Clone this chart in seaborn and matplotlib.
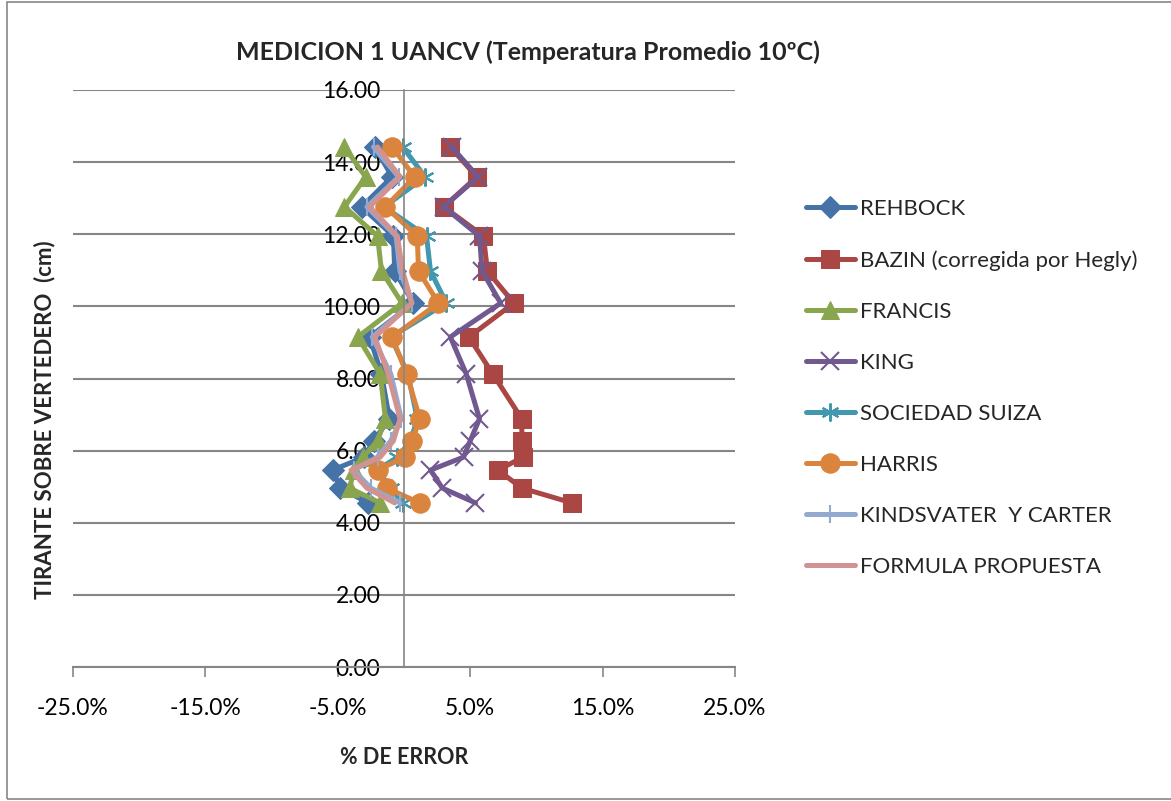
import numpy as np
import pandas as pd
import matplotlib
matplotlib.use("Agg")
import matplotlib.pyplot as plt
from matplotlib.patches import Rectangle
import seaborn as sns

# Water depth over the weir (cm) for each measurement
tirante = [14.42, 13.59, 12.76, 11.95, 10.98, 10.09, 9.15, 8.13, 6.88, 6.27, 5.82, 5.46, 4.96, 4.55]

# Percentage error of each discharge formula
rehbock    = [-2.2, -0.9, -3.2, -0.8, -0.7, 0.7, -2.6, -1.7, -1.1, -2.3, -3.0, -5.4, -4.8, -2.7]
bazin      = [3.5, 5.5, 3.0, 6.0, 6.3, 8.3, 4.9, 6.7, 8.9, 8.9, 9.0, 7.1, 8.9, 12.7]
francis    = [-4.5, -2.9, -4.5, -2.0, -1.7, -0.15, -3.5, -1.8, -1.4, -2.0, -3.1, -3.8, -4.1, -1.8]
king       = [3.6, 5.6, 3.0, 5.7, 5.9, 7.3, 3.5, 4.7, 5.7, 5.0, 4.5, 2.0, 2.9, 5.4]
suiza      = [-0.1, 1.6, -1.5, 1.7, 2.0, 3.2, -1.0, 0.3, 1.0, 0.5, -0.5, -2.0, -1.0, -0.1]
harris     = [-0.9, 0.8, -1.4, 1.0, 1.1, 2.6, -0.9, 0.2, 1.2, 0.6, 0.1, -2.0, -1.3, 1.2]
kindsvater = [-2.3, -0.4, -2.8, -0.6, -0.3, 0.6, -2.4, -1.0, -0.2, -1.0, -2.0, -3.8, -2.5, -0.3]
propuesta  = [-2.0, -0.3, -2.6, -0.5, -0.1, 0.6, -2.2, -1.2, -0.3, -0.8, -1.8, -4.0, -2.8, -0.7]

x_ticks = [-25, -15, -5, 5, 15, 25]
y_ticks = [0, 2, 4, 6, 8, 10, 12, 14, 16]

sns.set_theme(style="white")
plt.rcParams['font.family'] = ['Lato', 'DejaVu Sans']

fig = plt.figure(figsize=(11.71, 8.01), dpi=100)
ax = fig.add_axes([73 / 1171, 1 - 667 / 801, (735 - 73) / 1171, (667 - 90) / 801])

series = [
    ("REHBOCK", rehbock, "#4572A7", dict(marker="D", markersize=11)),
    ("BAZIN (corregida por Hegly)", bazin, "#AA4643", dict(marker="s", markersize=13)),
    ("FRANCIS", francis, "#89A54E", dict(marker="^", markersize=13)),
    ("KING", king, "#71588F", dict(marker="x", markersize=13, markeredgewidth=1.5)),
    ("SOCIEDAD SUIZA", suiza, "#4198AF", dict(marker=(6, 2, 0), markersize=13, markeredgewidth=1.5)),
    ("HARRIS", harris, "#DB843D", dict(marker="o", markersize=14)),
    ("KINDSVATER  Y CARTER", kindsvater, "#93A9CF", dict(marker="|", markersize=13, markeredgewidth=1.5)),
    ("FORMULA PROPUESTA", propuesta, "#D19392", dict()),
]

for name, vals, color, mk in series:
    df = pd.DataFrame({"error": vals, "tirante": tirante})
    sns.lineplot(data=df, x="error", y="tirante", sort=False, estimator=None,
                 color=color, linewidth=3.6, label=name, ax=ax,
                 markeredgecolor=color, markerfacecolor=color, **mk)

ax.set_xlim(-25, 25)
ax.set_ylim(0, 16)
ax.set_xticks(x_ticks)
ax.set_xticklabels([f"{v:.1f}%" for v in x_ticks])
ax.set_yticks(y_ticks)
ax.set_yticklabels([f"{v:.2f}" for v in y_ticks])

grid_color = "#868686"
ax.yaxis.grid(True, color=grid_color, linewidth=1.5)
ax.xaxis.grid(False)
ax.set_axisbelow(True)
for s in ["top", "right"]:
    ax.spines[s].set_visible(False)
ax.spines["left"].set_position(("data", 0))
ax.spines["left"].set_color(grid_color)
ax.spines["left"].set_linewidth(1.2)
ax.spines["bottom"].set_color(grid_color)
ax.spines["bottom"].set_linewidth(1.5)

ax.tick_params(axis="x", direction="out", length=7, width=1.2, color=grid_color,
               pad=15, labelsize=16.5, labelcolor="black", bottom=True)
ax.tick_params(axis="y", length=0, pad=17, labelsize=16.5, labelcolor="black")

ax.set_xlabel("")
ax.set_ylabel("")
fig.text(404 / 1171, 1 - 758 / 801, "% DE ERROR", ha="center", va="center",
         fontsize=15.5, fontweight="bold")
fig.text(45 / 1171, 1 - 420 / 801, "TIRANTE SOBRE VERTEDERO  (cm)", ha="center", va="center",
         rotation=90, fontsize=16, fontweight="bold")
fig.text(528 / 1171, 1 - 52 / 801, "MEDICION 1 UANCV (Temperatura Promedio 10ºC)",
         ha="center", va="center", fontsize=18, fontweight="bold")

leg = ax.legend(loc="upper left", bbox_to_anchor=(797 / 1171, 1 - 190 / 801),
                bbox_transform=fig.transFigure, frameon=False, fontsize=16,
                handlelength=2.2, handletextpad=0.25, labelspacing=1.4, borderaxespad=0)
for h in leg.legend_handles:
    h.set_linewidth(3.6)

fig.patches.append(Rectangle((7 / 1171, 2 / 801), 1 - 7 / 1171 + 0.01, 1 - 4 / 801,
                             transform=fig.transFigure, fill=False,
                             edgecolor="#868686", linewidth=1.2))

fig.savefig("out.png", dpi=100)
